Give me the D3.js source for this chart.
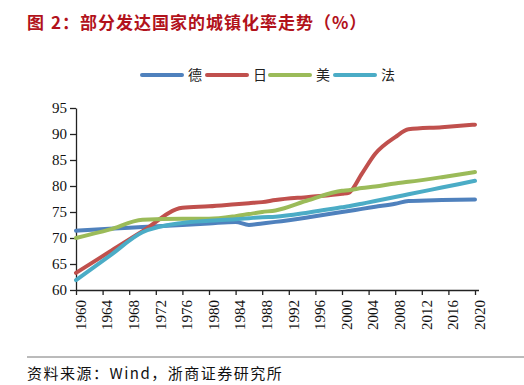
<!DOCTYPE html>
<html><head><meta charset="utf-8">
<script src="https://cdn.jsdelivr.net/npm/d3@7"></script>
<style>
html,body{margin:0;padding:0;background:#fff;}
svg{display:block;}
</style></head>
<body>
<svg id="chart" width="524" height="385"></svg>
<script>
const years   = [1960,1965,1970,1976,1980,1984,1986,1988,1990,1995,2000,2001,2003,2005,2008,2010,2015,2020];
const germany = [71.4,71.8,72.1,72.5,72.8,73.1,72.5,72.8,73.1,74.0,75.0,75.2,75.6,76.0,76.6,77.1,77.3,77.4];
const japan   = [63.3,67.3,71.3,75.8,76.1,76.5,76.7,76.9,77.3,77.9,78.5,78.7,82.4,86.2,89.4,90.9,91.3,91.8];
const usa     = [70.0,71.6,73.5,73.7,73.7,74.2,74.6,75.0,75.3,77.3,79.1,79.2,79.6,79.9,80.5,80.8,81.7,82.7];
const france  = [61.9,66.5,71.1,72.9,73.3,73.6,73.8,74.0,74.1,74.9,75.9,76.1,76.6,77.1,77.9,78.4,79.7,81.0];
const seriesNames  = ["德","日","美","法"];
const seriesColors = ["#4F81BD","#C0504D","#9BBB59","#4BACC6"];
const xTicks = [1960,1964,1968,1972,1976,1980,1984,1988,1992,1996,2000,2004,2008,2012,2016,2020];
const yTicks = [60,65,70,75,80,85,90,95];
const titleParts = ["图","2","：","部分发达国家的城镇化率走势（%）"];
const sourceText = "资料来源：Wind，浙商证券研究所";

const svg = d3.select("#chart");
const x = d3.scaleLinear().domain([1960,2020]).range([76,475]);
const y = d3.scaleLinear().domain([60,95]).range([290,108]);

// title
const titleX = [27,51,62,80];
titleParts.forEach((t,i)=>{
  svg.append("text").attr("x",titleX[i]).attr("y",29)
    .attr("font-family","'Noto Sans CJK SC'").attr("font-weight","bold")
    .attr("font-size",17).attr("letter-spacing", i===3 ? 1 : 0).attr("fill","#B2121B").text(t);
});

// legend
const legX = [142,207,270,335];
seriesNames.forEach((n,i)=>{
  const g = svg.append("g");
  g.append("line").attr("x1",legX[i]).attr("x2",legX[i]+40).attr("y1",75).attr("y2",75)
    .attr("stroke",seriesColors[i]).attr("stroke-width",4).attr("stroke-linecap","round");
  g.append("text").attr("x",legX[i]+46).attr("y",80).attr("font-family","'Noto Sans CJK SC'")
    .attr("font-size",14).attr("fill","#222").text(n);
});

// axes
const yAxis = d3.axisLeft(y).tickValues(yTicks).tickSize(6).tickSizeOuter(0);
const gy = svg.append("g").attr("transform","translate(76,0)").call(yAxis);
gy.selectAll("text").attr("font-family","'Liberation Serif'").attr("font-size",15).attr("fill","#111").attr("x",-9);

const xAxis = d3.axisBottom(x).tickValues(xTicks).tickSize(5).tickSizeOuter(0).tickFormat(d3.format("d"));
const gx = svg.append("g").attr("transform","translate(0,290)").call(xAxis);
gx.select(".domain").attr("d","M76,0.5H479");
gx.selectAll("text").attr("font-family","'Liberation Serif'").attr("font-size",15).attr("fill","#111")
  .attr("transform","rotate(-90)").attr("text-anchor","end").attr("x",-10).attr("y",4).attr("dy","0.35em");
svg.selectAll(".domain, .tick line").attr("stroke","#222").attr("stroke-width",1.3);

// lines
const data = [germany,japan,usa,france];
const line = d3.line().x((d,i)=>x(years[i])).y(d=>y(d)).curve(d3.curveMonotoneX);
data.forEach((s,i)=>{
  svg.append("path").datum(s).attr("d",line).attr("fill","none")
    .attr("stroke",seriesColors[i]).attr("stroke-width",4).attr("stroke-linecap","round").attr("stroke-linejoin","round");
});

// footer
svg.append("line").attr("x1",27).attr("x2",524).attr("y1",357).attr("y2",357).attr("stroke","#777").attr("stroke-width",1);
svg.append("text").attr("x",27).attr("y",379).attr("font-family","'Noto Sans CJK SC'")
  .attr("font-size",15).attr("letter-spacing",1.5).attr("fill","#111").text(sourceText);
</script>
</body></html>
